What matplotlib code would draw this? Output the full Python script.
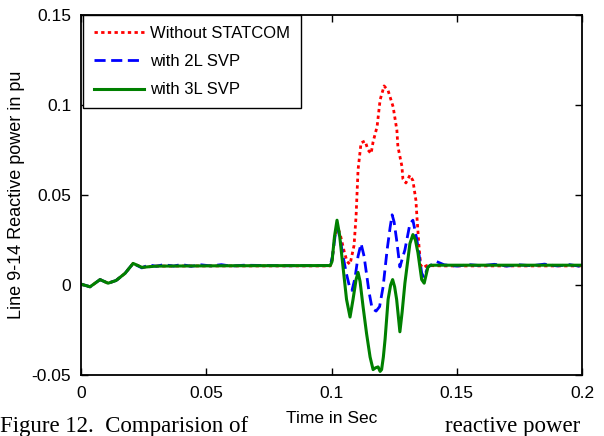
import matplotlib
matplotlib.use("Agg")
import matplotlib.pyplot as plt

# ---------------- data ----------------
t_red = [0.0, 0.0036, 0.0076, 0.0108, 0.0140, 0.0176, 0.0208, 0.0243, 0.0300, 0.0500, 0.0800,
         0.0995, 0.1002, 0.1012, 0.1022, 0.1035, 0.1050, 0.1062, 0.1074, 0.1090, 0.1098,
         0.1106, 0.1118, 0.1134, 0.1146, 0.1158, 0.1166, 0.1182, 0.1194, 0.1210, 0.1226,
         0.1246, 0.1261, 0.1265, 0.1281, 0.1285, 0.1297, 0.1313, 0.1325, 0.1337, 0.1341,
         0.1349, 0.1356, 0.1365, 0.1380, 0.1450, 0.1600, 0.2000]
v_red = [0.0005, -0.0010, 0.0030, 0.0010, 0.0025, 0.0065, 0.0120, 0.0098, 0.0105, 0.0106, 0.0106,
         0.0106, 0.0130, 0.0260, 0.0330, 0.0280, 0.0190, 0.0130, 0.0115, 0.0220, 0.0380,
         0.0640, 0.0790, 0.0800, 0.0750, 0.0730, 0.0795, 0.0880, 0.1028, 0.1106, 0.1080,
         0.0990, 0.0860, 0.0770, 0.0660, 0.0590, 0.0567, 0.0610, 0.0580, 0.0470, 0.0380,
         0.0220, 0.0110, 0.0095, 0.0108, 0.0106, 0.0106, 0.0106]

t_blue = [0.0, 0.0036, 0.0076, 0.0108, 0.0140, 0.0176, 0.0208, 0.0243, 0.0270, 0.0300, 0.0330,
          0.0370, 0.0400, 0.0440, 0.0480, 0.0520, 0.0560, 0.0600, 0.0650, 0.0800, 0.0995,
          0.1004, 0.1014, 0.1024, 0.1034, 0.1046, 0.1060, 0.1072, 0.1082, 0.1094, 0.1106,
          0.1118, 0.1130, 0.1142, 0.1150, 0.1162, 0.1178, 0.1192, 0.1206, 0.1222, 0.1234,
          0.1242, 0.1250, 0.1260, 0.1273, 0.1293, 0.1313, 0.1325, 0.1341, 0.1360, 0.1369,
          0.1385, 0.1420, 0.1450, 0.1500, 0.1550, 0.1600, 0.1650, 0.1700, 0.1750, 0.1800,
          0.1850, 0.1900, 0.1950, 0.2000]
v_blue = [0.0005, -0.0010, 0.0030, 0.0010, 0.0025, 0.0065, 0.0120, 0.0095, 0.0112, 0.0104, 0.0113,
          0.0105, 0.0114, 0.0104, 0.0112, 0.0106, 0.0113, 0.0105, 0.0110, 0.0107, 0.0108,
          0.0160, 0.0270, 0.0320, 0.0260, 0.0160, 0.0060, -0.0010, -0.0030, 0.0040, 0.0160,
          0.0230, 0.0160, 0.0040, -0.0040, -0.0130, -0.0145, -0.0120, -0.0010, 0.0195, 0.0320,
          0.0390, 0.0350, 0.0250, 0.0100, 0.0195, 0.0340, 0.0360, 0.0250, 0.0067, 0.0040,
          0.0100, 0.0130, 0.0112, 0.0105, 0.0113, 0.0107, 0.0115, 0.0105, 0.0112, 0.0107,
          0.0116, 0.0106, 0.0113, 0.0102]

t_green = [0.0, 0.0036, 0.0076, 0.0108, 0.0140, 0.0176, 0.0208, 0.0243, 0.0300, 0.0600, 0.0995,
           0.1002, 0.1012, 0.1022, 0.1032, 0.1046, 0.1060, 0.1074, 0.1086, 0.1098, 0.1106,
           0.1114, 0.1126, 0.1140, 0.1154, 0.1166, 0.1176, 0.1186, 0.1194, 0.1200, 0.1207,
           0.1214, 0.1226, 0.1236, 0.1244, 0.1252, 0.1260, 0.1273, 0.1282, 0.1293, 0.1313,
           0.1325, 0.1335, 0.1345, 0.1360, 0.1370, 0.1385, 0.1395, 0.2000]
v_green = [0.0005, -0.0010, 0.0030, 0.0010, 0.0025, 0.0065, 0.0120, 0.0098, 0.0105, 0.0107, 0.0108,
           0.0130, 0.0270, 0.0360, 0.0280, 0.0100, -0.0080, -0.0178, -0.0080, 0.0030, 0.0070,
           0.0020, -0.0120, -0.0270, -0.0400, -0.0470, -0.0460, -0.0455, -0.0480, -0.0470, -0.0400,
           -0.0300, -0.0080, 0.0000, 0.0030, -0.0010, -0.0080, -0.0260, -0.0150, 0.0010, 0.0230,
           0.0280, 0.0250, 0.0180, 0.0030, 0.0010, 0.0100, 0.0110, 0.0110]

labels = ["Without STATCOM", "with 2L SVP", "with 3L SVP"]
x_ticks = [0, 0.05, 0.1, 0.15, 0.2]
x_ticklabels = ["0", "0.05", "0.1", "0.15", "0.2"]
y_ticks = [-0.05, 0, 0.05, 0.1, 0.15]
y_ticklabels = ["-0.05", "0", "0.05", "0.1", "0.15"]

# ---------------- figure ----------------
plt.rcParams['font.family'] = ['Liberation Sans', 'DejaVu Sans']
W, H = 604, 436
fig = plt.figure(figsize=(W / 100, H / 100), dpi=100)
ax = fig.add_axes([81 / W, 1 - 375 / H, (582 - 81) / W, (375 - 15) / H])

ax.plot(t_red, v_red, color='#ff0000', lw=2.0, linestyle=(0, (1.2, 1.2)), label=labels[0])
ax.plot(t_blue, v_blue, color='#0000ff', lw=2.0, linestyle=(0, (4, 2)), label=labels[1])
ax.plot(t_green, v_green, color='#008000', lw=2.2, linestyle='-', label=labels[2])

ax.set_xlim(0, 0.2)
ax.set_ylim(-0.05, 0.15)
ax.set_xticks(x_ticks)
ax.set_xticklabels(x_ticklabels)
ax.set_yticks(y_ticks)
ax.set_yticklabels(y_ticklabels)
ax.tick_params(direction='in', top=True, right=True, length=5, width=1,
               labelsize=12.5, colors='black')
ax.tick_params(axis='x', pad=8)
ax.tick_params(axis='y', pad=7)
for s in ax.spines.values():
    s.set_linewidth(1.3)
    s.set_color('black')

ax.set_xlabel("Time in Sec", fontsize=12.5, labelpad=7)
ax.set_ylabel("Line 9-14 Reactive power in pu", fontsize=13, labelpad=5)

leg = ax.legend(loc='upper left', bbox_to_anchor=(0.004, 1.0), borderaxespad=0,
                fontsize=12, handlelength=3.0, handletextpad=0.35, labelspacing=0.8,
                fancybox=False, framealpha=1, edgecolor='black', borderpad=0.65)
leg.get_frame().set_linewidth(1.0)

serif = ['Liberation Serif', 'DejaVu Serif']
fig.text(0 / W, 1 - 432 / H, "Figure 12.  Comparision of", family=serif, fontsize=16.5,
         va='baseline', ha='left')
fig.text(445 / W, 1 - 432 / H, "reactive power", family=serif, fontsize=16.5,
         va='baseline', ha='left')

fig.savefig("out.png", dpi=100)
